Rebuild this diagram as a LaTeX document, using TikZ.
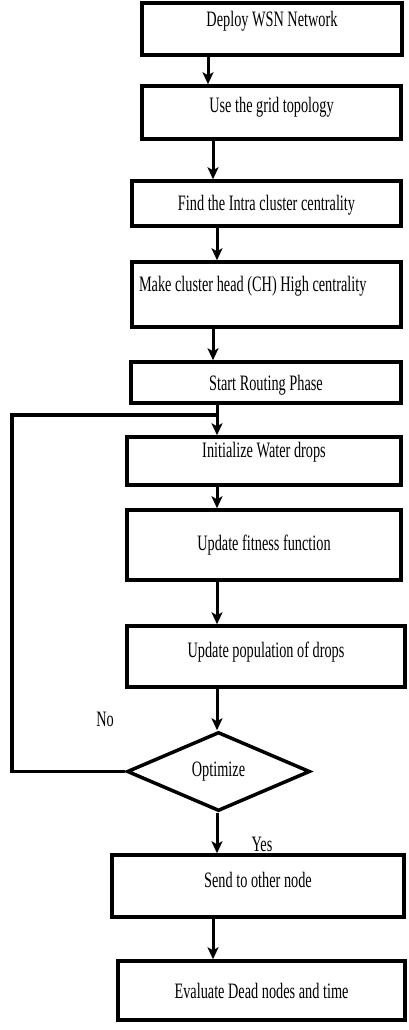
\documentclass[tikz,border=0pt]{standalone}
\usepackage{fontspec}
\setmainfont{Liberation Serif}[FakeStretch=0.65]
\usepackage{tikz}
\usetikzlibrary{arrows.meta,positioning,shapes.geometric,calc}

\begin{document}
\begin{tikzpicture}[x=1pt, y=-1pt,
    procbox/.style={draw, line width=3.5pt, fill=white, font=\fontsize{22}{24}\selectfont,
      text height=15pt, text depth=5pt, inner xsep=7pt, inner ysep=2pt},
    decbox/.style={draw, diamond, line width=3.5pt, fill=white, inner sep=0pt,
      font=\fontsize{22}{24}\selectfont},
    flow/.style={line width=3pt, -{Stealth[length=12pt, width=11pt, inset=3pt]}},
    loopline/.style={line width=3.5pt},
    tag/.style={font=\fontsize{22}{24}\selectfont, anchor=base}]
  \useasboundingbox (0,0) rectangle (408,1030);

  % columns of the arrows
  \coordinate (colA) at (208,0);
  \coordinate (colB) at (213,0);
  \coordinate (colC) at (217,0);

  % process boxes
  \node[procbox, minimum width=260pt, minimum height=52pt, text depth=19pt] (deploy) at (272,29) {Deploy WSN Network};
  \node[procbox, minimum width=259pt, minimum height=53pt, text depth=14pt] (grid) at (271.5,112.5) {Use the grid topology};
  \node[procbox, minimum width=269pt, minimum height=45pt, text depth=2pt] (intra) at (266.5,203.5) {Find the Intra cluster centrality};
  \node[procbox, minimum width=269pt, minimum height=65pt, text depth=22pt, text width=255pt, align=flush left] (head) at (266.5,294.5) {Make cluster head (CH) High centrality};
  \node[procbox, minimum width=270pt, minimum height=41pt, text depth=0pt] (routing) at (266,382.5) {Start Routing Phase};
  \node[procbox, minimum width=274pt, minimum height=48pt, text depth=23pt] (water) at (264,461) {Initialize Water drops};
  \node[procbox, minimum width=274pt, minimum height=70pt, text depth=5pt] (fitness) at (264,545) {Update fitness function};
  \node[procbox, minimum width=278pt, minimum height=61pt, text depth=14pt] (population) at (266,656.5) {Update population of drops};
  \node[decbox, minimum width=183pt, minimum height=79pt] (optimize) at (218.5,771.5) {Optimize};
  \node[procbox, minimum width=292pt, minimum height=62pt, text depth=13pt] (send) at (258,886) {Send to other node};
  \node[procbox, minimum width=287pt, minimum height=59pt, text depth=0pt] (evaluate) at (261.5,990.5) {Evaluate Dead nodes and time};

  % main flow
  \draw[flow] (deploy.south -| colA) -- (grid.north -| colA);
  \draw[flow] (grid.south -| colB) -- (intra.north -| colB);
  \draw[flow] (intra.south -| colC) -- (head.north -| colC);
  \draw[flow] (head.south -| colB) -- (routing.north -| colB);
  \draw[flow] (routing.south -| colC) -- (water.north -| colC);
  \draw[flow] (water.south -| colC) -- (fitness.north -| colC);
  \draw[flow] (fitness.south -| colC) -- (population.north -| colC);
  \draw[flow] (population.south -| colC) -- (optimize.north -| colC);
  \draw[flow] (optimize.south -| colC) -- (send.north -| colC);
  \draw[flow] (send.south -| colB) -- (evaluate.north -| colB);

  % back loop
  \coordinate (merge) at (217,415);
  \coordinate (loopcorner) at (12,415);
  \draw[loopline] (optimize.west) -| (loopcorner) -- (merge);

  \node[tag] (no) at (105,726) {No};
  \node[tag] (yes) at (262,851) {Yes};
\end{tikzpicture}
\end{document}
